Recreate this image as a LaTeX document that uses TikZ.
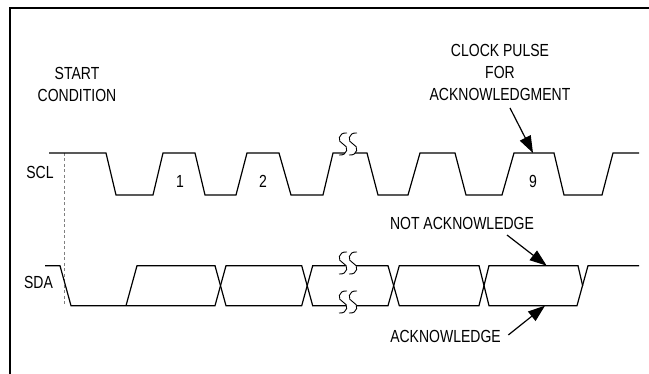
\documentclass[tikz,border=0pt]{standalone}
\usepackage{fontspec}
\setmainfont{Liberation Sans}[FakeStretch=0.8]
\usetikzlibrary{arrows.meta}

% break symbol: two S strokes with white gap, centred at (#1,#2)
\newcommand{\brkmark}[2]{%
  \fill[white] (#1-1,#2-11) .. controls (#1-10,#2-12) and (#1-11,#2-2) .. (#1-5,#2)
    .. controls (#1+1,#2+2) and (#1,#2+12) .. (#1-9,#2+11)
    -- (#1+1,#2+11) .. controls (#1+10,#2+12) and (#1+11,#2+2) .. (#1+5,#2)
    .. controls (#1-1,#2-2) and (#1,#2-12) .. (#1+9,#2-11) -- cycle;
  \foreach \dx in {-5,5}
    \draw[line width=0.9pt] (#1+\dx+4,#2-11) .. controls (#1+\dx-5,#2-12) and (#1+\dx-6,#2-2) .. (#1+\dx,#2)
      .. controls (#1+\dx+6,#2+2) and (#1+\dx+5,#2+12) .. (#1+\dx-4,#2+11);
}

\begin{document}
\begin{tikzpicture}[x=1pt, y=-1pt,
  lbl/.style={inner sep=0pt, align=center, font=\fontsize{17.5}{22}\selectfont},
  sig/.style={line width=1.2pt, line join=miter},
  ptr/.style={line width=1.2pt, -{Triangle[length=17pt, width=12pt]}}]
  \useasboundingbox (0,0) rectangle (649,374);

  % frame
  \draw[line width=2pt] (10,374) -- (10,8) -- (649,8);

  % labels
  \node[lbl] (start) at (77,84) {START\\CONDITION};
  \node[lbl] (scl) at (40,172) {SCL};
  \node[lbl] (sda) at (38.5,282) {SDA};
  \node[lbl] (clk) at (500,72.5) {CLOCK PULSE\\FOR\\ACKNOWLEDGMENT};
  \node[lbl] (nack) at (462,223) {NOT ACKNOWLEDGE};
  \node[lbl] (ack) at (445.5,336.5) {ACKNOWLEDGE};
  \foreach \x/\n in {180/1, 263/2, 533/9}
    \node[lbl] (pulse\n) at (\x,181) {\n};

  % start condition marker
  \draw[gray, line width=0.9pt, dash pattern=on 3pt off 2.5pt] (64.3,153) -- (64.3,306);

  % SCL
  \draw[sig] (49,153) -- (106,153) -- (116,195) -- (153,195) -- (163,153) -- (195,153)
    -- (205,195) -- (236,195) -- (247,153) -- (279,153) -- (291,195) -- (323,195)
    -- (333,153) -- (367,153) -- (378,195) -- (408,195) -- (420,153) -- (455,153)
    -- (466,195) -- (502,195) -- (514,153) -- (554,153) -- (564,195) -- (602,195)
    -- (613,153) -- (639,153);

  % SDA
  \draw[sig] (45,265.7) -- (60,265.7) -- (71,305.7) -- (215,305.7) -- (226,265.7)
    -- (301.7,265.7) -- (312.7,305.7) -- (388,305.7) -- (399.3,265.7) -- (479,265.7)
    -- (489,305.7) -- (577,305.7) -- (588,265.7) -- (639,265.7);
  \draw[sig] (126,305.7) -- (137,265.7) -- (215,265.7) -- (226,305.7) -- (301.7,305.7)
    -- (312.7,265.7) -- (388,265.7) -- (399.3,305.7) -- (479,305.7) -- (489,265.7)
    -- (578,265.7) -- (582.7,286);

  % breaks
  \brkmark{348}{144}
  \brkmark{348}{263}
  \brkmark{348}{302}

  % pointers
  \coordinate (clkfrom) at (510,108);
  \coordinate (clkto) at (533,153);
  \coordinate (nackfrom) at (507,235);
  \coordinate (nackto) at (546.7,265.7);
  \coordinate (ackfrom) at (508.3,335);
  \coordinate (ackto) at (545,305.7);
  \draw[ptr] (clkfrom) -- (clkto);
  \draw[ptr] (nackfrom) -- (nackto);
  \draw[ptr] (ackfrom) -- (ackto);
\end{tikzpicture}
\end{document}
